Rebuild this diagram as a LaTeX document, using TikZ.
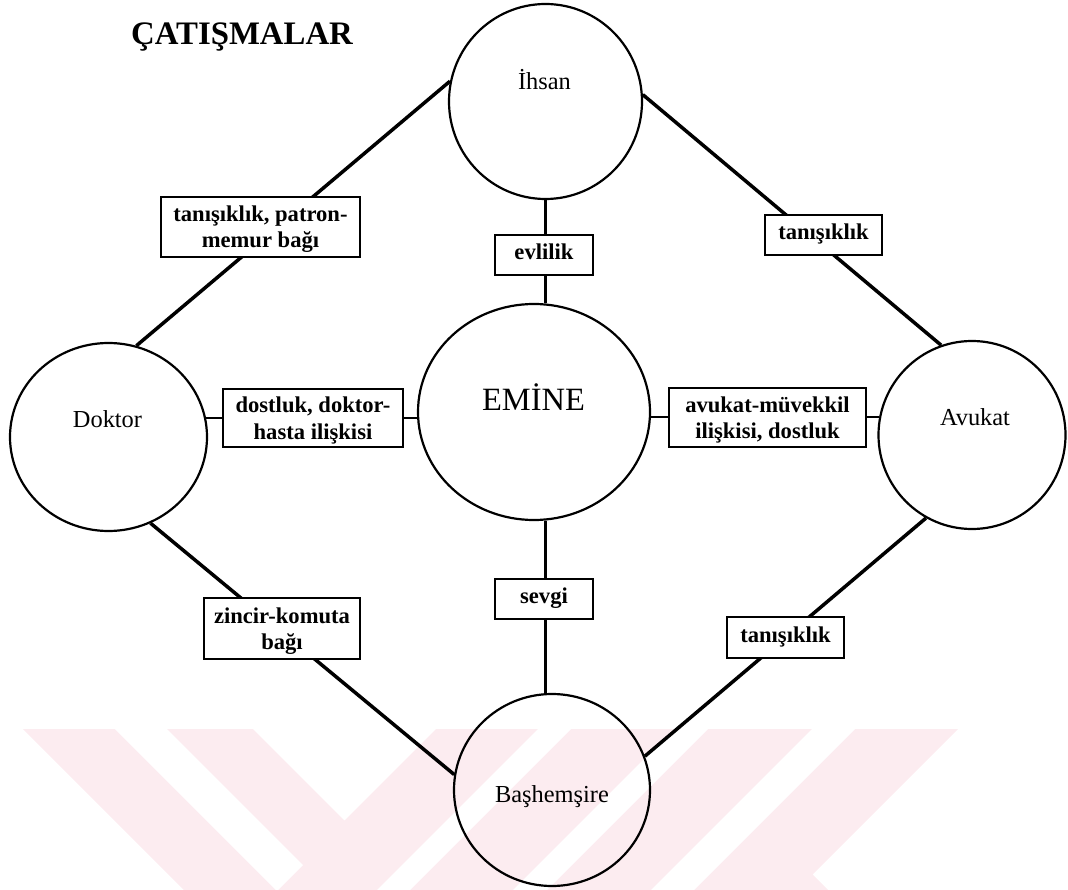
\documentclass[tikz,border=0pt]{standalone}
\usepackage{fontspec}
\setmainfont{Liberation Serif}
\usetikzlibrary{shapes.geometric}
\pgfdeclarelayer{watermark}
\pgfdeclarelayer{links}
\pgfsetlayers{watermark,links,main}
\definecolor{wmpink}{RGB}{252,236,240}
\newcommand{\twolines}[2]{\begin{tabular}[t]{@{}c@{}}#1\\#2\end{tabular}}

\begin{document}
\begin{tikzpicture}[x=1pt,y=-1pt,
  person/.style={ellipse, draw, line width=2.2pt, inner sep=0pt},
  who/.style={anchor=base, inner sep=0pt, font=\fontsize{24.4}{28}\selectfont},
  tiebox/.style={draw, fill=white, line width=2.2pt, inner sep=0pt},
  tietext/.style={anchor=base, inner sep=0pt,
                  font=\fontsize{22.6}{26}\selectfont\bfseries},
  diagline/.style={line width=3.5pt},
  straightline/.style={line width=2.4pt}]
\useasboundingbox (0,0) rectangle (1068,890);

% faint chevron watermark along the bottom edge
\begin{pgfonlayer}{watermark}
  \fill[wmpink] (23,729) -- (253,729) -- (344.5,820.5) -- (436,729) -- (958,729)
     -- (812.5,874.5) -- (828,890) -- (184,890) -- cycle;
  \fill[white] (115,729) -- (167,729) -- (303,865) -- (277,891) -- cycle;
  \fill[white] (538,729) -- (571,729) -- (410,890) -- (377,890) -- cycle;
  \fill[white] (674,729) -- (708,729) -- (547,890) -- (513,890) -- cycle;
  \fill[white] (812,729) -- (855,729) -- (694,890) -- (651,890) -- cycle;
\end{pgfonlayer}

% title
\node[anchor=base west, inner sep=0pt, font=\fontsize{32.8}{36}\selectfont\bfseries]
  (title) at (131,45) {ÇATIŞMALAR};

% characters
\node[person, minimum width=193pt, minimum height=195pt] (ihsan)  at (545.5,101.5) {};
\node[person, minimum width=232pt, minimum height=216pt] (emine)  at (534,412) {};
\node[person, minimum width=197pt, minimum height=188pt] (doktor) at (108.5,437) {};
\node[person, minimum width=187pt, minimum height=188pt] (avukat) at (972,435) {};
\node[person, minimum width=196pt, minimum height=192pt] (bas)    at (552,790) {};

\node[who] (ihsan-t)  at (544.5,90) {İhsan};
\node[who] (doktor-t) at (107.5,427) {Doktor};
\node[who] (avukat-t) at (975,425) {Avukat};
\node[who] (bas-t)    at (552,802) {Başhemşire};
\node[anchor=base, inner sep=0pt, font=\fontsize{32.5}{36}\selectfont]
  (emine-t) at (533.5,410) {EMİNE};

% relation label frames
\node[tiebox, minimum width=199pt, minimum height=60pt] (l-patron)  at (260.5,227) {};
\node[tiebox, minimum width=98pt,  minimum height=40pt] (l-evlilik) at (544,255) {};
\node[tiebox, minimum width=117pt, minimum height=40pt] (l-tanis1)  at (823.5,235) {};
\node[tiebox, minimum width=180pt, minimum height=58pt] (l-dostluk) at (313,418) {};
\node[tiebox, minimum width=197pt, minimum height=59pt] (l-avukat)  at (767.5,417.5) {};
\node[tiebox, minimum width=98pt,  minimum height=40pt] (l-sevgi)   at (544,599) {};
\node[tiebox, minimum width=156pt, minimum height=61pt] (l-zincir)  at (282,628.5) {};
\node[tiebox, minimum width=117pt, minimum height=41pt] (l-tanis2)  at (785.5,637.5) {};

% relation label texts
\node[tietext] (l-patron-t)  at ([yshift=5pt]l-patron.center)  {\twolines{tanışıklık, patron-}{memur bağı}};
\node[tietext] (l-evlilik-t) at ([yshift=-5pt]l-evlilik.center) {evlilik};
\node[tietext] (l-tanis1-t)  at ([yshift=-5pt]l-tanis1.center)  {tanışıklık};
\node[tietext] (l-dostluk-t) at ([yshift=5pt]l-dostluk.center) {\twolines{dostluk, doktor-}{hasta ilişkisi}};
\node[tietext] (l-avukat-t)  at ([yshift=5.5pt]l-avukat.center) {\twolines{avukat-müvekkil}{ilişkisi, dostluk}};
\node[tietext] (l-sevgi-t)   at ([yshift=-4pt]l-sevgi.center)   {sevgi};
\node[tietext] (l-zincir-t)  at ([yshift=5.5pt]l-zincir.center) {\twolines{zincir-komuta}{bağı}};
\node[tietext] (l-tanis2-t)  at ([yshift=-4.5pt]l-tanis2.center) {tanışıklık};

% connections, drawn beneath the label frames
\begin{pgfonlayer}{links}
  \draw[diagline] (ihsan.168) -- (doktor.73);
  \draw[diagline] (ihsan.4) -- (avukat.109);
  \draw[diagline] (doktor.-64) -- (bas.171);
  \draw[diagline] (avukat.241) -- (bas.20);
  \draw[straightline] (ihsan.south) -- (ihsan.south |- emine.north);
  \draw[straightline] (ihsan.south |- emine.south) -- (ihsan.south |- bas.north);
  \draw[straightline] (doktor.11) -- (doktor.11 -| emine.west);
  \draw[straightline] (avukat.169) -- (avukat.169 -| emine.east);
\end{pgfonlayer}
\end{tikzpicture}
\end{document}
